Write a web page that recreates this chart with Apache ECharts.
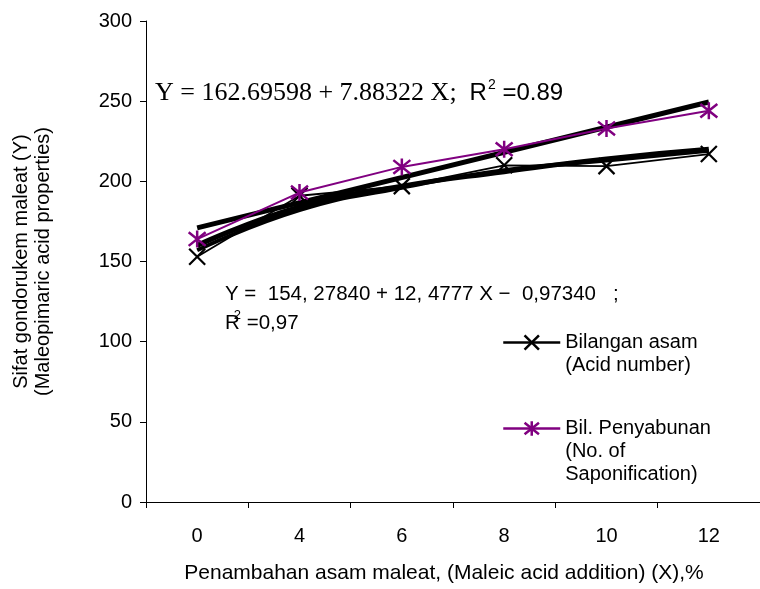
<!DOCTYPE html>
<html>
<head>
<meta charset="utf-8">
<script src="https://cdn.jsdelivr.net/npm/echarts@6/dist/echarts.min.js"></script>
<style>
html,body{margin:0;padding:0;background:#fff;}
#chart{width:760px;height:589px;}
</style>
</head>
<body>
<div id="chart"></div>
<script>
const categories = ['0', '4', '6', '8', '10', '12'];
const acidNumber = [153, 191, 197, 210, 209.5, 217];
const saponification = [164, 193, 209, 220, 233, 244];
const acidTrendA = [160, 184, 197, 206, 214, 220];
const acidTrendB = [157, 182, 196, 207, 213, 219];
const saponTrend = [171, null, null, null, null, 249.5];
const yMin = 0, yMax = 300, yStep = 50;
const seriesNames = ['Bilangan asam (Acid number)', 'Bil. Penyabunan (No. of Saponification)'];

const FONT = "'Liberation Sans', Arial, sans-serif";
const SERIF = "'Liberation Serif', 'Times New Roman', serif";
const xPath = 'path://M0,0L10,10M10,0L0,10';
const starPath = 'path://M1,1L9,9M9,1L1,9M5,0L5,10';

const chart = echarts.init(document.getElementById('chart'), null, {renderer: 'canvas'});
const option = {
  backgroundColor: '#ffffff',
  animation: false,
  textStyle: {fontFamily: FONT},
  grid: {left: 146, top: 21, width: 627, height: 488, containLabel: false},
  xAxis: {
    type: 'category',
    data: categories,
    boundaryGap: true,
    axisLine: {lineStyle: {color: '#000', width: 1}},
    axisTick: {show: true, inside: false, length: 6, lineStyle: {color: '#000'}},
    axisLabel: {color: '#000', fontSize: 20, fontFamily: FONT, margin: 24},
    splitLine: {show: false},
    name: 'Penambahan asam maleat, (Maleic acid addition) (X),%',
    nameLocation: 'middle',
    nameGap: 61,
    nameTextStyle: {color: '#000', fontSize: 21, fontFamily: FONT, padding: [0, 0, 0, -18]}
  },
  yAxis: {
    type: 'value',
    min: yMin, max: yMax, interval: yStep,
    axisLine: {show: true, lineStyle: {color: '#000', width: 1}},
    axisTick: {show: true, inside: false, length: 6, lineStyle: {color: '#000'}},
    axisLabel: {color: '#000', fontSize: 20, fontFamily: FONT, margin: 14},
    splitLine: {show: false},
    name: 'Sifat gondorukem maleat (Y)\n(Maleopimaric acid properties)',
    nameLocation: 'middle',
    nameGap: 92,
    nameTextStyle: {color: '#000', fontSize: 20, fontFamily: FONT, lineHeight: 22}
  },
  legend: [
    {
      data: [seriesNames[0]],
      left: 497, top: 303,
      itemWidth: 57, itemHeight: 18,
      formatter: function () { return ' \nBilangan asam\n(Acid number)'; },
      textStyle: {color: '#000', fontSize: 20, fontFamily: FONT, lineHeight: 23},
      lineStyle: {width: 2.5},
      itemStyle: {borderWidth: 2.5},
      selectedMode: false
    },
    {
      data: [seriesNames[1]],
      left: 497, top: 366,
      itemWidth: 57, itemHeight: 18,
      formatter: function () { return ' \n \nBil. Penyabunan\n(No. of\nSaponification)'; },
      textStyle: {color: '#000', fontSize: 20, fontFamily: FONT, lineHeight: 23},
      lineStyle: {width: 2.5},
      itemStyle: {borderWidth: 2.5},
      selectedMode: false
    }
  ],
  graphic: [
    {
      type: 'text', left: 155, top: 78, silent: true,
      style: {
        text: '{a|Y = 162.69598 + 7.88322 X;  }{b|R}{c|2}{b| =0.89}',
        rich: {
          a: {fontFamily: SERIF, fontSize: 26, fill: '#000', lineHeight: 30},
          b: {fontFamily: FONT, fontSize: 24, fill: '#000', lineHeight: 30},
          c: {fontFamily: FONT, fontSize: 14, fill: '#000', lineHeight: 30, verticalAlign: 'top', padding: [0, 0, 12, 1]}
        }
      }
    },
    {
      type: 'text', left: 225, top: 284, silent: true,
      style: {
        text: '{b|Y =  154, 27840 + 12, 4777 X \u2212  0,97340   ;}\n{b|R}{c|2}{b| =0,97}',
        rich: {
          b: {fontFamily: FONT, fontSize: 20.5, fill: '#000', lineHeight: 29},
          c: {fontFamily: FONT, fontSize: 13, fill: '#000', lineHeight: 29, verticalAlign: 'top', padding: [0, 0, 10, -6]}
        }
      }
    }
  ],
  series: [
    {
      name: 'trendA', type: 'line', data: acidTrendA, smooth: true, symbol: 'none',
      lineStyle: {color: '#000', width: 5}, z: 2, silent: true
    },
    {
      name: 'trendB', type: 'line', data: acidTrendB, smooth: true, symbol: 'none',
      lineStyle: {color: '#000', width: 4}, z: 2, silent: true
    },
    {
      name: 'trendLin', type: 'line', data: saponTrend, connectNulls: true, symbol: 'none',
      lineStyle: {color: '#000', width: 5}, z: 2, silent: true
    },
    {
      name: seriesNames[0], type: 'line', data: acidNumber,
      symbol: xPath, symbolSize: 16,
      lineStyle: {color: '#000', width: 1.8},
      itemStyle: {color: '#000', borderColor: '#000', borderWidth: 2.2},
      z: 3
    },
    {
      name: seriesNames[1], type: 'line', data: saponification,
      symbol: starPath, symbolSize: 17,
      lineStyle: {color: '#800080', width: 2},
      itemStyle: {color: '#800080', borderColor: '#800080', borderWidth: 2.5},
      z: 4
    }
  ]
};
chart.setOption(option);
</script>
</body>
</html>
